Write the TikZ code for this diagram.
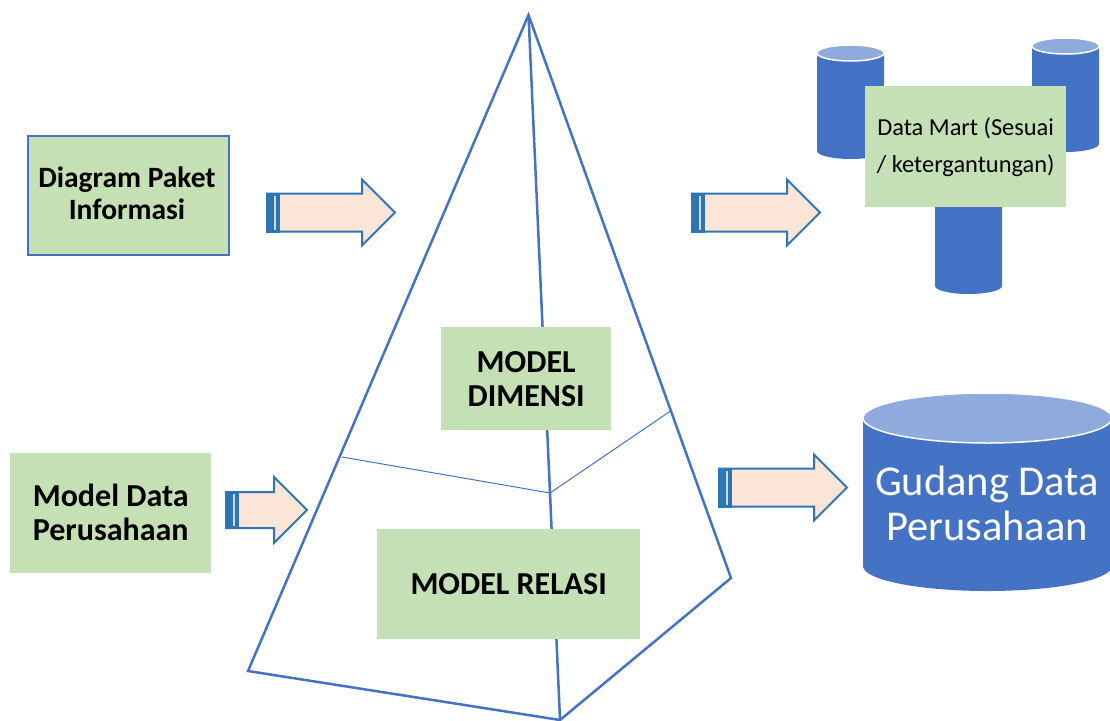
\documentclass[tikz,border=0pt]{standalone}
\usepackage{fontspec}
\setmainfont{Carlito}
\definecolor{boxgreen}{HTML}{C5E0B4}
\definecolor{drumblue}{HTML}{4472C4}
\definecolor{drumtop}{HTML}{8FAADC}
\definecolor{arrowfill}{HTML}{FBE5D6}
\definecolor{arrowline}{HTML}{2E75B6}
\tikzset{
  greenbox/.style={fill=boxgreen, inner sep=0pt, align=center, text=black, anchor=north west},
  boldlabel/.style={font=\fontsize{32}{34}\selectfont\bfseries},
  pyramidline/.style={draw=drumblue, line width=2.5pt, line join=miter},
  thinline/.style={draw=drumblue, line width=1pt},
}
% left, right, top of rim centre, bottom, rim half height
\newcommand{\drum}[5]{
  \fill[drumblue] (#1,#3) -- (#1,#4-#5) arc[start angle=180, end angle=0, x radius={(#2-#1)/2}, y radius=#5]
    -- (#2,#3) -- cycle;
  \draw[white, line width=1.5pt, fill=drumtop] ({(#1+#2)/2},#3) ellipse[x radius={(#2-#1)/2}, y radius=#5];
}
% left, middle y, head base, tip, half head height, half shaft height
\newcommand{\blockarrow}[6]{
  \draw[arrowline, line width=2pt, fill=arrowfill, line join=miter] (#1,#2-#6) -- (#3,#2-#6) -- (#3,#2-#5) -- (#4,#2)
    -- (#3,#2+#5) -- (#3,#2+#6) -- (#1,#2+#6) -- cycle;
  \fill[arrowline] (#1-1,#2-#6-1) rectangle (#1+13,#2+#6+1);
  \fill[white!75!arrowline] (#1+7,#2-#6+2) rectangle (#1+9,#2+#6-2);
}
\begin{document}
\begin{tikzpicture}[x=1pt, y=-1pt]
\useasboundingbox (0,0) rectangle (1110,720);
% pyramid
\coordinate (apex) at (528.5,15);
\coordinate (cornerleft) at (248,671);
\coordinate (cornerfront) at (560,720);
\coordinate (cornerright) at (731,578);
\coordinate (axis) at (550,493);
\coordinate (cutleft) at (342,457);
\coordinate (cutright) at (672,410);
\draw[pyramidline] (apex) -- (cornerleft) -- (cornerfront) -- (cornerright) -- cycle;
\draw[pyramidline] (apex) -- (axis) -- (cornerfront);
\draw[thinline] (cutleft) -- (axis) -- (cutright);
% drums
\drum{817}{884}{53}{159}{8}
\drum{1032}{1099}{46}{152}{8}
\drum{935}{1002}{150}{294}{8}
\drum{863}{1112}{418}{591}{25}
% arrows
\blockarrow{267}{212.5}{362}{395}{33}{19}
\blockarrow{692}{212.5}{787}{820}{33}{19}
\blockarrow{719}{487.5}{814}{847}{33}{19}
\blockarrow{226}{510}{274}{307}{33}{18}
% boxes
\node[greenbox, draw=drumblue, line width=2pt, minimum width=201pt, minimum height=119pt] (paket) at (26.5,134.5) {};
\node[align=center, font=\fontsize{29.5}{32}\selectfont\bfseries] (paketlabel) at ([yshift=2pt,xshift=-1pt]paket.center) {Diagram Paket\\Informasi};
\node[greenbox, minimum width=201pt, minimum height=120pt] (perusahaan) at (10,453) {};
\node[align=center, boldlabel] (perusahaanlabel) at ([yshift=1pt]perusahaan.center) {Model Data\\Perusahaan};
\node[greenbox, minimum width=170pt, minimum height=103pt, boldlabel] (dimensi) at (441,327) {MODEL\\DIMENSI};
\node[greenbox, minimum width=263pt, minimum height=110pt, boldlabel] (relasi) at (377,529) {MODEL RELASI};
\node[greenbox, minimum width=201pt, minimum height=121pt, font=\fontsize{24.4}{37}\selectfont] (mart) at (865,86) {Data Mart (Sesuai\\/ ketergantungan)};
\node[text=white, align=center, font=\fontsize{42.5}{45}\selectfont] (gudang) at (987,503) {Gudang Data\\Perusahaan};
\end{tikzpicture}
\end{document}
